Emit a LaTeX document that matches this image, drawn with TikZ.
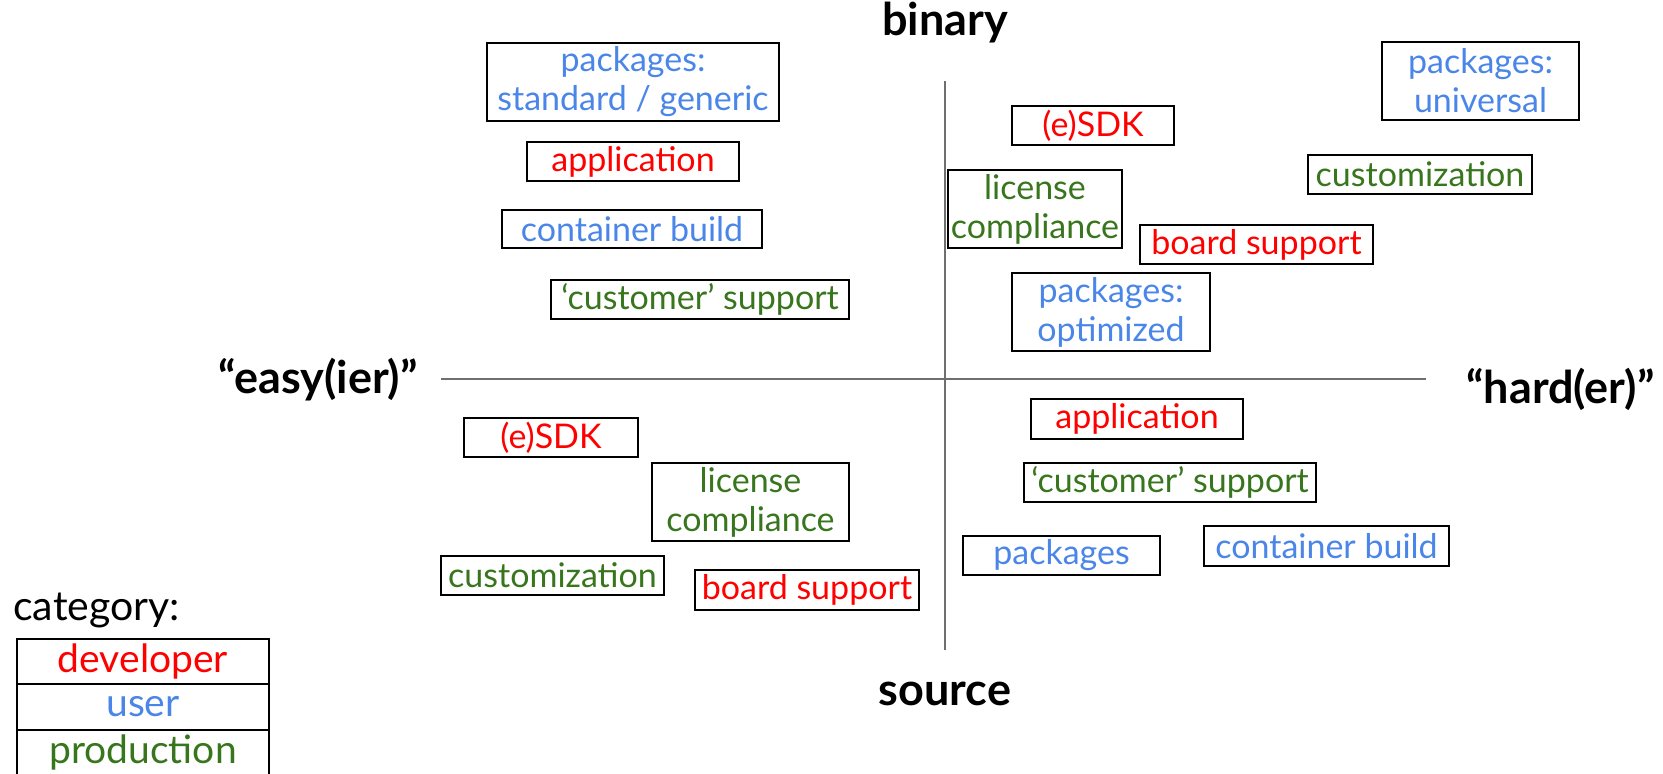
\documentclass[tikz,border=0pt]{standalone}
\usepackage{fontspec}
\setmainfont{Lato}
\definecolor{devred}{HTML}{FF0000}
\definecolor{userblue}{HTML}{4A86E8}
\definecolor{prodgreen}{HTML}{38761D}
\definecolor{axisgray}{HTML}{6F6F6F}
\begin{document}
\begin{tikzpicture}[x=0.5pt, y=-0.5pt,
	cell/.style={draw=black, line width=1pt, inner sep=0pt, align=center, font=\fontsize{17}{19.5}\selectfont},
	devbox/.style={cell, text=devred},
	userbox/.style={cell, text=userblue},
	prodbox/.style={cell, text=prodgreen},
	axislabel/.style={inner sep=0pt, font=\bfseries\fontsize{22.5}{26}\selectfont}]
		\useasboundingbox (0,0) rectangle (1663,773);
		
		% Axes
		\coordinate (top) at (944.6,81);
		\coordinate (bottom) at (944.6,650);
		\coordinate (left) at (441,379.3);
		\coordinate (right) at (1425.5,379.3);
		\draw[axisgray, line width=1pt] (top) -- (bottom);
		\draw[axisgray, line width=1pt] (left) -- (right);
		\node[axislabel, anchor=base] (binary) at (945,35) {binary};
		\node[axislabel, anchor=base] (source) at (945,705.7) {source};
		\node[axislabel, anchor=base east] (easy) at (418,393) {“easy(ier)”};
		\node[axislabel, anchor=base west] (hard) at (1466,403) {“hard(er)”};
		
		% Binary, easier
		\node[userbox, minimum width=146pt, minimum height=39pt] (pkgstd) at (633,82) {packages:\\standard / generic};
		\node[devbox, minimum width=106pt, minimum height=19.5pt] (appbin) at (633,161.5) {application};
		\node[userbox, minimum width=130pt, minimum height=19pt] (contbin) at (632,229) {container build};
		\node[prodbox, minimum width=149pt, minimum height=19.5pt] (custbin) at (700,299.5) {‘customer’ support};
		
		% Binary, harder
		\node[devbox, minimum width=81pt, minimum height=19.5pt] (sdkbin) at (1093,125.5) {(e)SDK};
		\node[prodbox, minimum width=87pt, minimum height=39pt] (licbin) at (1035,209) {license\\compliance};
		\node[devbox, minimum width=116.5pt, minimum height=19.5pt] (boardbin) at (1256.5,244.5) {board support};
		\node[userbox, minimum width=99pt, minimum height=39pt] (pkgopt) at (1111,312) {packages:\\optimized};
		\node[userbox, minimum width=98.5pt, minimum height=39pt] (pkguni) at (1480.5,81) {packages:\\universal};
		\node[prodbox, minimum width=112pt, minimum height=19.5pt] (custombin) at (1420,174.5) {customization};
		
		% Source, easier
		\node[devbox, minimum width=87pt, minimum height=19.5pt] (sdksrc) at (551,437.5) {(e)SDK};
		\node[prodbox, minimum width=98.5pt, minimum height=39pt] (licsrc) at (750.5,502) {license\\compliance};
		\node[prodbox, minimum width=111.5pt, minimum height=19.5pt] (customsrc) at (552.5,575.5) {customization};
		\node[devbox, minimum width=112pt, minimum height=20pt] (boardsrc) at (807,590) {board support};
		
		% Source, harder
		\node[devbox, minimum width=106pt, minimum height=20pt] (appsrc) at (1137,419) {application};
		\node[prodbox, minimum width=146pt, minimum height=19.5pt] (custsrc) at (1170,482.5) {‘customer’ support};
		\node[userbox, minimum width=98.5pt, minimum height=19.5pt] (pkgsrc) at (1061.5,555.5) {packages};
		\node[userbox, minimum width=122.5pt, minimum height=20pt] (contsrc) at (1326.5,546) {container build};
		
		% Legend
		\node[inner sep=0pt, anchor=base west, font=\fontsize{20.5}{24}\selectfont] (category) at (13,620) {category:};
		\node[devbox, minimum width=126pt, minimum height=22.7pt, font=\fontsize{19.5}{24}\selectfont] (developer) at (143,661.5) {developer};
		\node[userbox, minimum width=126pt, minimum height=22.7pt, font=\fontsize{19.5}{24}\selectfont] (user) at (143,706.8) {user};
		\node[prodbox, minimum width=126pt, minimum height=22.7pt, font=\fontsize{19.5}{24}\selectfont] (production) at (143,752.2) {production};
	\end{tikzpicture}
\end{document}
